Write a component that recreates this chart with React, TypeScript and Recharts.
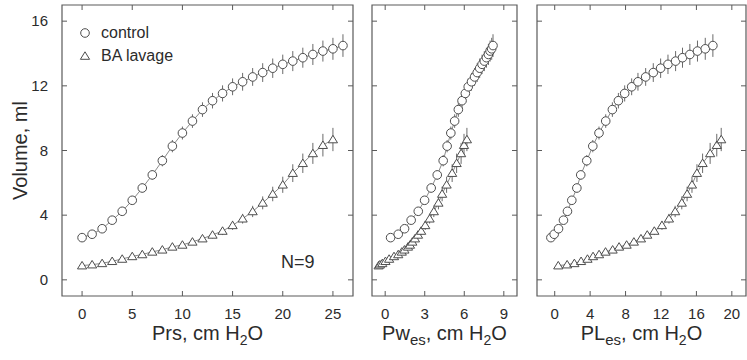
import { ComposedChart, Scatter, XAxis, YAxis, ErrorBar, ReferenceArea, ReferenceDot, Label } from 'recharts';

// control group (circles)
const prsControl = [0, 1, 2, 3, 4, 5, 6, 7, 8, 9, 10, 11, 12, 13, 14, 15, 16, 17, 18, 19, 20, 21, 22, 23, 24, 25, 26];
const volControl = [2.61, 2.82, 3.16, 3.69, 4.24, 4.92, 5.68, 6.49, 7.37, 8.27, 9.08, 9.82, 10.53, 11.08, 11.53, 11.94, 12.25, 12.55, 12.82, 13.09, 13.33, 13.53, 13.74, 13.94, 14.15, 14.29, 14.49];
const errControl = [0.1, 0.1, 0.12, 0.15, 0.2, 0.25, 0.28, 0.3, 0.35, 0.38, 0.4, 0.42, 0.45, 0.48, 0.5, 0.52, 0.55, 0.55, 0.58, 0.6, 0.6, 0.62, 0.62, 0.65, 0.65, 0.68, 0.7];
const pwControl = [0.41, 0.99, 1.47, 1.97, 2.51, 2.99, 3.49, 3.95, 4.4, 4.7, 4.98, 5.27, 5.55, 5.83, 6.08, 6.3, 6.55, 6.78, 6.98, 7.17, 7.35, 7.52, 7.68, 7.83, 7.96, 8.08, 8.18];
const plControl = [-0.43, -0.06, 0.43, 0.99, 1.44, 1.93, 2.5, 2.94, 3.62, 4.3, 5.0, 5.76, 6.51, 7.19, 7.9, 8.69, 9.4, 10.27, 11.13, 11.96, 12.79, 13.65, 14.43, 15.26, 16.12, 17.0, 17.86];

// BA lavage group (triangles)
const prsLavage = [0, 1, 2, 3, 4, 5, 6, 7, 8, 9, 10, 11, 12, 13, 14, 15, 16, 17, 18, 19, 20, 21, 22, 23, 24, 25];
const volLavage = [0.88, 0.94, 1.02, 1.15, 1.29, 1.45, 1.57, 1.73, 1.86, 2.04, 2.16, 2.35, 2.55, 2.78, 3.02, 3.37, 3.78, 4.23, 4.76, 5.31, 5.88, 6.6, 7.21, 7.82, 8.33, 8.68];
const errLavage = [0.05, 0.05, 0.06, 0.07, 0.08, 0.1, 0.1, 0.12, 0.13, 0.15, 0.16, 0.18, 0.2, 0.22, 0.25, 0.28, 0.3, 0.35, 0.4, 0.45, 0.5, 0.55, 0.6, 0.65, 0.7, 0.72];
const pwLavage = [-0.5, -0.4, -0.22, 0.02, 0.3, 0.67, 0.99, 1.26, 1.46, 1.73, 1.88, 2.06, 2.26, 2.49, 2.73, 3.04, 3.37, 3.69, 4.04, 4.32, 4.66, 5.08, 5.42, 5.76, 5.98, 6.2];
const plLavage = [0.4, 1.4, 2.22, 2.98, 3.7, 4.33, 5.01, 5.74, 6.54, 7.27, 8.12, 8.94, 9.74, 10.45, 11.25, 12.11, 12.9, 13.6, 14.35, 14.95, 15.5, 16.06, 16.7, 17.55, 18.3, 18.8];

const volTicks = [0, 4, 8, 12, 16];
const prsTicks = [0, 5, 10, 15, 20, 25];
const pwTicks = [0, 3, 6, 9];
const plTicks = [0, 4, 8, 12, 16, 20];

const FONT = 'Arial, "Liberation Sans", Helvetica, sans-serif';
const AXIS = '#5a5a5a';
const TEXT = '#2b2b2b';
const MARK = '#4d4d4d';

const TOP = 5;
const HEIGHT = 360;
const X_AXIS_H = 64;
const BOTTOM = HEIGHT - X_AXIS_H; // y of the lower frame edge
const TICK_LEN = 5;
const X_GAP = 10;
const Y_GAP = 14;

const rows = (xs: number[], vs: number[], es: number[]) =>
  xs.map((x, i) => ({ x, v: vs[i], err: es[i] }));

const circleShape = (p: any) => (
  <circle cx={p.cx} cy={p.cy} r={4.3} fill="#fff" stroke={MARK} strokeWidth={1} />
);
const triangleShape = (p: any) => (
  <path
    d={`M${p.cx},${p.cy - 4.2} L${p.cx + 4.6},${p.cy + 3.3} L${p.cx - 4.6},${p.cy + 3.3} Z`}
    fill="#fff"
    stroke={MARK}
    strokeWidth={1}
  />
);

// inward ticks on bottom and top of the frame
const xTick = (p: any) => {
  const axisY = p.y - X_GAP;
  return (
    <g>
      <line x1={p.x} x2={p.x} y1={axisY} y2={axisY - TICK_LEN} stroke={AXIS} />
      <line x1={p.x} x2={p.x} y1={TOP} y2={TOP + TICK_LEN} stroke={AXIS} />
      <text x={p.x} y={p.y} dy="0.85em" textAnchor="middle" fontSize={15} fill={TEXT} fontFamily={FONT}>
        {p.payload.value}
      </text>
    </g>
  );
};

// inward ticks on left and right of the frame
const yTick = (right: number, labels: boolean) => (p: any) => {
  const axisX = p.x + Y_GAP;
  return (
    <g>
      <line x1={axisX} x2={axisX + TICK_LEN} y1={p.y} y2={p.y} stroke={AXIS} />
      <line x1={right} x2={right - TICK_LEN} y1={p.y} y2={p.y} stroke={AXIS} />
      {labels && (
        <text x={p.x} y={p.y} dy="0.35em" textAnchor="end" fontSize={15} fill={TEXT} fontFamily={FONT}>
          {p.payload.value}
        </text>
      )}
    </g>
  );
};

const xTitle = (main: string, sub: string | null) => (props: any) => {
  const vb = props.viewBox;
  const cx = vb.x + vb.width / 2;
  return (
    <text x={cx} y={BOTTOM + 44} textAnchor="middle" fontSize={20} fill={TEXT} fontFamily={FONT}>
      {main}
      {sub && <tspan dy={5} fontSize={15}>{sub}</tspan>}
      <tspan dy={sub ? -5 : 0}>, cm H</tspan>
      <tspan dy={5} fontSize={14}>2</tspan>
      <tspan dy={-5}>O</tspan>
    </text>
  );
};

const yTitle = () => {
  const cy = (TOP + BOTTOM) / 2;
  return (
    <text x={22} y={cy} transform={`rotate(-90 22 ${cy})`} textAnchor="middle" dominantBaseline="middle" fontSize={20} fill={TEXT} fontFamily={FONT}>
      Volume, ml
    </text>
  );
};

type Row = { x: number; v: number; err: number };
type PanelProps = {
  left: number;
  width: number;
  yWidth: number;
  marginRight: number;
  xDomain: [number, number];
  xTicks: number[];
  control: Row[];
  lavage: Row[];
  title: (p: any) => any;
  main?: boolean;
};

function Panel({ left, width, yWidth, marginRight, xDomain, xTicks, control, lavage, title, main }: PanelProps) {
  const rightEdge = width - marginRight;
  return (
    <div style={{ position: 'absolute', left, top: 0 }}>
      <ComposedChart width={width} height={HEIGHT} margin={{ top: TOP, right: marginRight, left: 0, bottom: 0 }}>
        <XAxis
          type="number"
          dataKey="x"
          domain={xDomain}
          ticks={xTicks}
          allowDataOverflow
          interval={0}
          height={X_AXIS_H}
          axisLine={false}
          tickLine={false}
          tickSize={0}
          tickMargin={X_GAP}
          tick={xTick}
          label={<Label content={title} />}
        />
        <YAxis
          type="number"
          domain={[-1, 17]}
          ticks={volTicks}
          allowDataOverflow
          interval={0}
          width={yWidth}
          axisLine={false}
          tickLine={false}
          tickSize={0}
          tickMargin={Y_GAP}
          tick={yTick(rightEdge, !!main)}
          label={main ? <Label content={yTitle} /> : undefined}
        />
        <ReferenceArea
          x1={xDomain[0]}
          x2={xDomain[1]}
          y1={-1}
          y2={17}
          fill="none"
          fillOpacity={0}
          stroke={AXIS}
          strokeWidth={1.2}
          ifOverflow="visible"
        />
        <Scatter
          data={control}
          dataKey="v"
          line={{ stroke: '#8a8a8a', strokeWidth: 1 }}
          lineType="joint"
          shape={circleShape}
          isAnimationActive={false}
          name="control"
        >
          <ErrorBar dataKey="err" direction="y" width={0} stroke="#6a6a6a" strokeWidth={1} />
        </Scatter>
        <Scatter
          data={lavage}
          dataKey="v"
          line={{ stroke: '#8a8a8a', strokeWidth: 1 }}
          lineType="joint"
          shape={triangleShape}
          isAnimationActive={false}
          name="BA lavage"
        >
          <ErrorBar dataKey="err" direction="y" width={0} stroke="#6a6a6a" strokeWidth={1} />
        </Scatter>
        {main && (
          <ReferenceDot
            x={21.5}
            y={1.1}
            r={0.01}
            fill="none"
            stroke="none"
            label={{ value: 'N=9', position: 'center', fontSize: 18, fill: TEXT, fontFamily: FONT }}
          />
        )}
      </ComposedChart>
    </div>
  );
}

function LegendBox() {
  return (
    <div style={{ position: 'absolute', left: 78, top: 21, fontFamily: FONT, fontSize: 16, color: TEXT, lineHeight: '23px' }}>
      <div style={{ display: 'flex', alignItems: 'center' }}>
        <svg width={14} height={12} style={{ marginRight: 9 }}>
          <circle cx={7} cy={6} r={4.3} fill="#fff" stroke={MARK} />
        </svg>
        control
      </div>
      <div style={{ display: 'flex', alignItems: 'center' }}>
        <svg width={14} height={12} style={{ marginRight: 9 }}>
          <path d="M7,1.8 L11.6,9.3 L2.4,9.3 Z" fill="#fff" stroke={MARK} />
        </svg>
        BA lavage
      </div>
    </div>
  );
}

export default function App() {
  return (
    <div style={{ position: 'absolute', left: 0, top: 0, width: 747, height: 360, background: '#fff', overflow: 'hidden' }}>
      <Panel
        left={0}
        width={360}
        yWidth={62}
        marginRight={7}
        xDomain={[-2, 27]}
        xTicks={prsTicks}
        control={rows(prsControl, volControl, errControl)}
        lavage={rows(prsLavage, volLavage, errLavage)}
        title={xTitle('Prs', null)}
        main
      />
      <Panel
        left={362}
        width={160}
        yWidth={10}
        marginRight={5}
        xDomain={[-1, 10]}
        xTicks={pwTicks}
        control={rows(pwControl, volControl, errControl)}
        lavage={rows(pwLavage, volLavage, errLavage)}
        title={xTitle('Pw', 'es')}
      />
      <Panel
        left={527}
        width={220}
        yWidth={10}
        marginRight={1}
        xDomain={[-2, 21.6]}
        xTicks={plTicks}
        control={rows(plControl, volControl, errControl)}
        lavage={rows(plLavage, volLavage, errLavage)}
        title={xTitle('PL', 'es')}
      />
      <LegendBox />
    </div>
  );
}
